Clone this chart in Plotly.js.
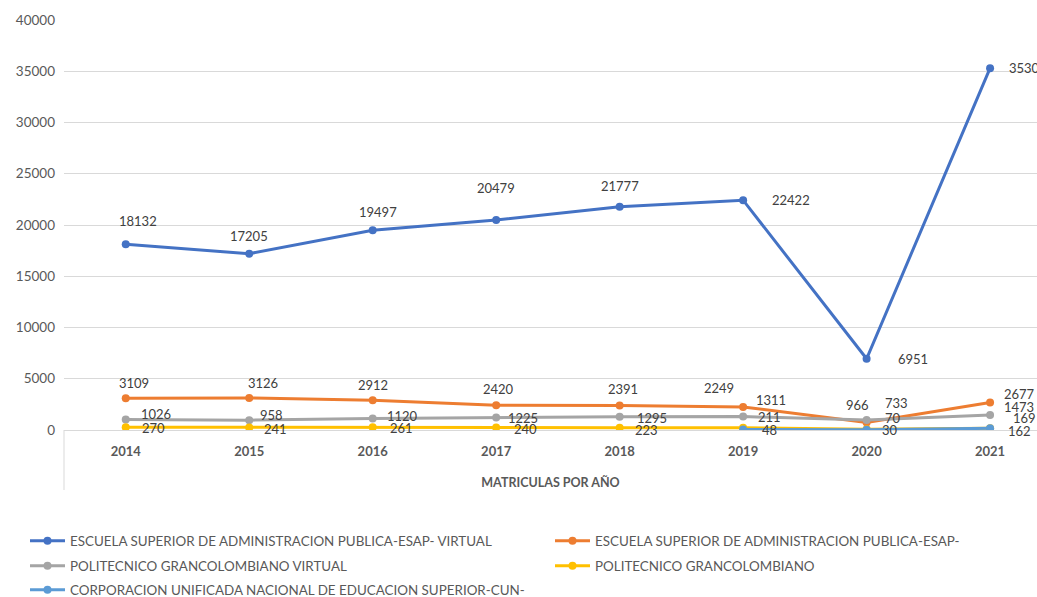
<!DOCTYPE html>
<html><head><meta charset="utf-8">
<script src="https://cdn.plot.ly/plotly-3.0.1.min.js"></script>
<style>body{margin:0;background:#fff}#chart{width:1037px;height:597px}</style>
</head><body><div id="chart"></div>
<script>
const years = ['2014','2015','2016','2017','2018','2019','2020','2021'];
const esapVirtual = [18132, 17205, 19497, 20479, 21777, 22422, 6951, 35300];
const esap = [3109, 3126, 2912, 2420, 2391, 2249, 733, 2677];
const polVirtual = [1026, 958, 1120, 1225, 1295, 1311, 966, 1473];
const pol = [270, 241, 261, 240, 223, 211, 70, 169];
const cun = [null, null, null, null, null, 48, 30, 162];
const yTicks = [0, 5000, 10000, 15000, 20000, 25000, 30000, 35000, 40000];
const names = [
  'ESCUELA SUPERIOR DE ADMINISTRACION PUBLICA-ESAP- VIRTUAL',
  'ESCUELA SUPERIOR DE ADMINISTRACION PUBLICA-ESAP-',
  'POLITECNICO GRANCOLOMBIANO VIRTUAL',
  'POLITECNICO GRANCOLOMBIANO',
  'CORPORACION UNIFICADA NACIONAL DE EDUCACION SUPERIOR-CUN-'
];
const colors = ['#4472C4', '#ED7D31', '#A5A5A5', '#FFC000', '#5B9BD5'];
const series = [esapVirtual, esap, polVirtual, pol, cun];
const legendIds = ['legend', 'legend2', 'legend3', 'legend4', 'legend5'];
// legend entry positions in px (left x, center y)
const legendPos = [[25, 541], [550, 541], [25, 566], [550, 566], [25, 590]];

// label offsets in px (dx right, dy down)
const labelOffsets = [
  [[12,-23],[0,-18],[5,-18],[0,-32],[0,-21],[48,0],[46,0],[38,0]],
  [[8,-15],[14,-15],[0,-15],[2,-16],[3,-16],[-24,-19],[30,-19],[29,-9]],
  [[30,-5],[22,-5],[30,-3],[27,1],[32,1],[28,-17],[-9,-15],[29,-8]],
  [[28,1],[26,1],[29,1],[29,1],[27,2],[26,-11],[26,-11],[34,-10]],
  [null,null,null,null,null,[26,0],[23,0],[29,3]]
];

const xIdx = years.map((_, j) => j);

const traces = series.map((s, i) => ({
  x: xIdx, y: s, name: names[i], type: 'scatter', mode: 'lines+markers',
  line: {color: colors[i], width: 3}, marker: {color: colors[i], size: 8},
  legend: legendIds[i], connectgaps: false, hoverinfo: 'y+name'
}));

const annotations = [];
series.forEach((s, i) => {
  s.forEach((v, j) => {
    if (v === null) return;
    const off = labelOffsets[i][j] || [0, -15];
    annotations.push({
      x: xIdx[j], y: v, xref: 'x', yref: 'y', text: String(v), showarrow: false,
      xshift: off[0], yshift: -off[1],
      font: {family: 'Lato, sans-serif', size: 13, color: '#404040'}
    });
  });
});

const W = 1037, H = 597;
const layout = {
  width: W, height: H,
  margin: {l: 64, r: 0, t: 20, b: 167, autoexpand: false},
  paper_bgcolor: '#fff', plot_bgcolor: '#fff',
  font: {family: 'Lato, sans-serif', color: '#595959'},
  showlegend: true,
  xaxis: {
    type: 'linear', range: [-0.5, 7.38], tickvals: xIdx, ticktext: years,
    showgrid: false, zeroline: false, automargin: false,
    showline: false, ticks: '', ticklabelstandoff: 12,
    tickfont: {family: 'Lato, sans-serif', size: 13, color: '#595959', weight: 'bold'},
    title: {text: '<b>MATRICULAS POR AÑO</b>', standoff: 20,
      font: {family: 'Lato, sans-serif', size: 12.5, color: '#595959'}}
  },
  yaxis: {
    range: [0, 40000], tickvals: yTicks, ticktext: yTicks.map(String),
    showgrid: true, gridcolor: '#d9d9d9', gridwidth: 1, zeroline: true,
    zerolinecolor: '#d9d9d9', zerolinewidth: 1, showline: false, ticks: '',
    ticklabelstandoff: 8, automargin: false,
    tickfont: {family: 'Lato, sans-serif', size: 13.5, color: '#595959'}
  },
  shapes: [{type: 'line', xref: 'paper', yref: 'paper', x0: 0, x1: 0, y0: 0, y1: -60/410,
    line: {color: '#d9d9d9', width: 1}}],
  annotations: annotations
};
legendIds.forEach((id, i) => {
  layout[id] = {
    xref: 'container', yref: 'container',
    x: legendPos[i][0] / W, y: 1 - legendPos[i][1] / H,
    xanchor: 'left', yanchor: 'middle', itemwidth: 35,
    font: {family: 'Lato, sans-serif', size: 13.4, color: '#595959'},
    bgcolor: 'rgba(0,0,0,0)', borderwidth: 0
  };
});

Plotly.newPlot('chart', traces, layout, {displayModeBar: false, staticPlot: true});
</script></body></html>
